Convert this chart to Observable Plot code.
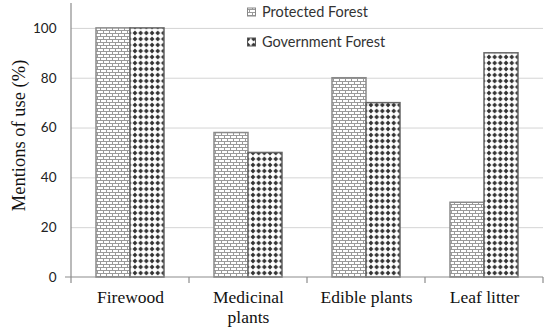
<!DOCTYPE html>
<html>
<head>
<meta charset="utf-8">
<script src="https://cdn.jsdelivr.net/npm/d3@7"></script>
<script src="https://cdn.jsdelivr.net/npm/@observablehq/plot@0.6"></script>
<style>
  html, body { margin: 0; padding: 0; background: white; }
  #chart { position: relative; width: 550px; height: 334px; }
</style>
</head>
<body>
<div id="chart"></div>
<script>
const categories = ["Firewood", "Medicinal\nplants", "Edible plants", "Leaf litter"];
const series = ["Protected Forest", "Government Forest"];
const protectedValues = [100, 58, 80, 30];
const governmentValues = [100, 50, 70, 90];
const yTicks = [0, 20, 40, 60, 80, 100];
const yTitle = "Mentions of use (%)";

const data = categories.flatMap((c, i) => [
  {category: c, series: series[0], value: protectedValues[i]},
  {category: c, series: series[1], value: governmentValues[i]}
]);

const serif = "'Liberation Serif', 'Times New Roman', serif";
const sans = "Lato, 'Open Sans', sans-serif";

const plot = Plot.plot({
  width: 550,
  height: 334,
  marginLeft: 70,
  marginRight: 7,
  marginTop: 3,
  marginBottom: 57,
  style: {background: "white", fontFamily: sans, overflow: "visible"},
  fx: {domain: categories, padding: 0, label: null, axis: null},
  x: {domain: series, paddingInner: 0, paddingOuter: 0.735, axis: null},
  y: {domain: [0, 110], label: null, axis: null},
  marks: [
    Plot.gridY(yTicks.slice(1), {stroke: "#d4d4d4", strokeOpacity: 1, strokeWidth: 1}),
    Plot.axisY(yTicks, {tickSize: 0, tickPadding: 15, fontSize: 13.5, fill: "#222", fontFamily: sans, label: null}),
    Plot.axisFx({anchor: "bottom", tickSize: 0, tickPadding: 11, fontSize: 17.5, fontFamily: serif, fill: "#111", lineHeight: 1.14, label: null}),
    Plot.barY(data.filter(d => d.series === series[0]), {
      fx: "category", x: "series", y: "value",
      fill: "url(#brickPat)", stroke: "#8a8a8a", strokeWidth: 1.5
    }),
    Plot.barY(data.filter(d => d.series === series[1]), {
      fx: "category", x: "series", y: "value",
      fill: "url(#dotPat)", stroke: "#666", strokeWidth: 1.5
    }),
    Plot.text([{t: yTitle, c: categories[0]}], {
      fx: "c", text: "t", frameAnchor: "left", textAnchor: "middle", rotate: -90, dx: -52, dy: -5,
      fontSize: 18.5, fontFamily: serif, fill: "#111"
    })
  ]
});

const svg = d3.select(plot);
// pattern definitions
const defs = svg.insert("defs", ":first-child");
const brick = defs.append("pattern").attr("id", "brickPat").attr("patternUnits", "userSpaceOnUse")
  .attr("width", 6).attr("height", 6);
brick.append("rect").attr("width", 6).attr("height", 6).attr("fill", "white");
brick.append("path").attr("d", "M0,0.5H6M0,3.5H6M0.5,0V3M3.5,3V6")
  .attr("stroke", "#9a9a9a").attr("stroke-width", 1).attr("fill", "none");
const dot = defs.append("pattern").attr("id", "dotPat").attr("patternUnits", "userSpaceOnUse")
  .attr("width", 5.7).attr("height", 6);
dot.append("rect").attr("width", 5.7).attr("height", 6).attr("fill", "white");
dot.append("path").attr("d", "M2.85,0.6L5.2,3L2.85,5.4L0.5,3Z").attr("fill", "#333");

// axis lines & category boundary ticks from scales
const fx = plot.scale("fx");
const y = plot.scale("y");
const y0 = y.apply(0), yTop = y.apply(110);
const left = fx.apply(categories[0]);
const right = fx.apply(categories[categories.length - 1]) + fx.bandwidth;
const axes = svg.append("g").attr("stroke", "#8c8c8c").attr("stroke-width", 1.2);
axes.append("line").attr("x1", left).attr("x2", left).attr("y1", yTop).attr("y2", y0);
axes.append("line").attr("x1", left - 6).attr("x2", right).attr("y1", y0).attr("y2", y0);
categories.forEach(c => {
  const bx = fx.apply(c);
  axes.append("line").attr("x1", bx).attr("x2", bx).attr("y1", y0).attr("y2", y0 + 6);
});
axes.append("line").attr("x1", right).attr("x2", right).attr("y1", y0).attr("y2", y0 + 6);

// legend
const legend = svg.append("g").attr("font-family", sans).attr("font-size", 14.5)
  .attr("fill", "#333").attr("text-anchor", "start");
const legendFills = ["url(#brickPat)", "url(#dotPat)"];
series.forEach((s, i) => {
  const gy = 8 + i * 30;
  legend.append("rect").attr("x", 247.5).attr("y", gy).attr("width", 8).attr("height", 8)
    .attr("fill", legendFills[i]).attr("stroke", i ? "#555" : "#888").attr("stroke-width", 1);
  legend.append("text").attr("x", 262).attr("y", gy + 4).attr("dy", "0.35em")
    .attr("text-anchor", "start").text(s);
});

document.getElementById("chart").appendChild(plot);
</script>
</body>
</html>
